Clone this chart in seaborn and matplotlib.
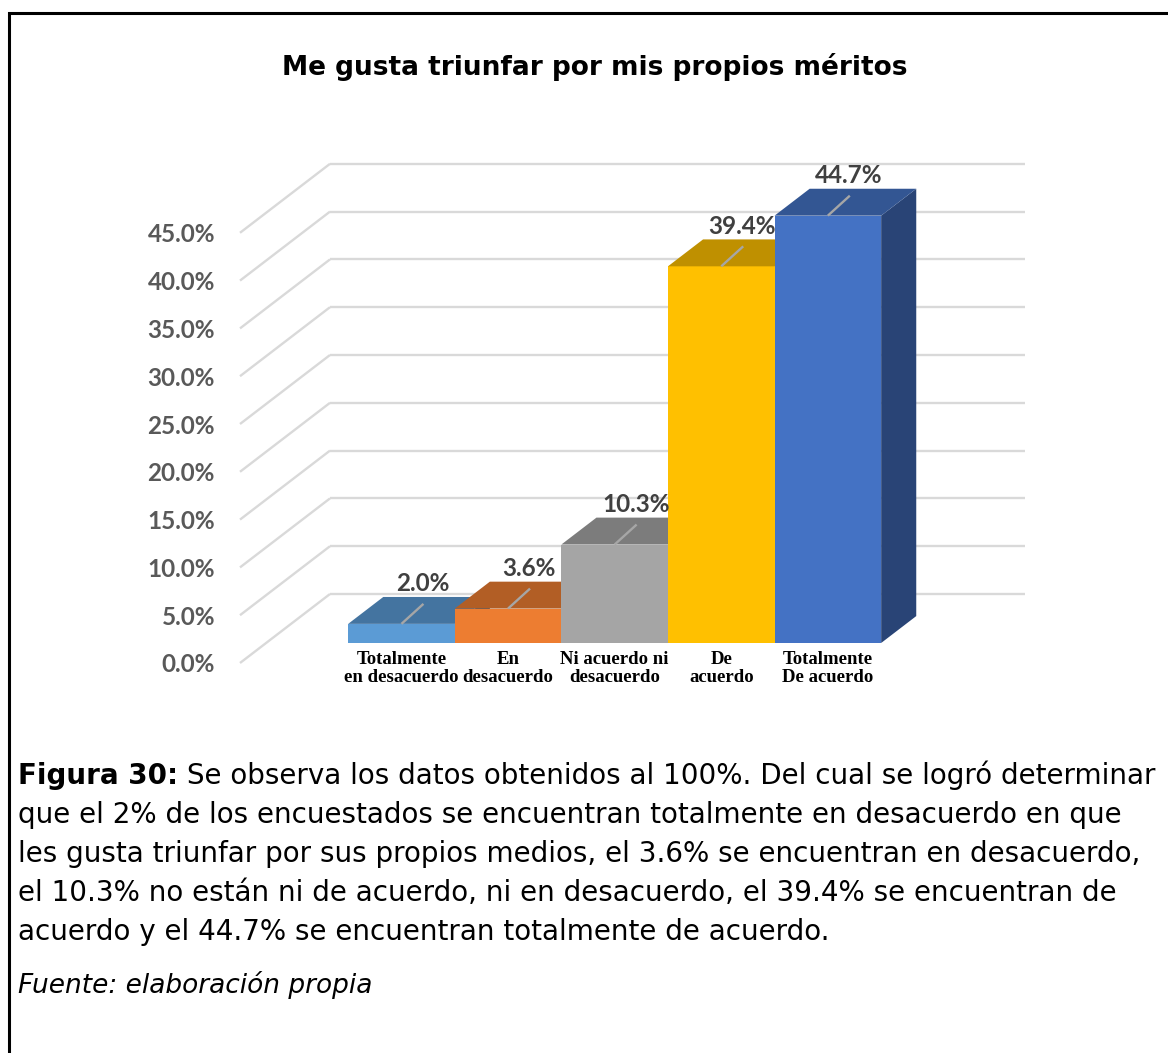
import numpy as np
import pandas as pd
import matplotlib
matplotlib.use("Agg")
import matplotlib.pyplot as plt
import matplotlib.transforms as mtransforms
import matplotlib.colors as mcolors
from matplotlib.patches import Polygon, Rectangle
from matplotlib.ticker import PercentFormatter
import seaborn as sns

# ---------------- data ----------------
categories = ["Totalmente\nen desacuerdo", "En\ndesacuerdo", "Ni acuerdo ni\ndesacuerdo",
              "De\nacuerdo", "Totalmente\nDe acuerdo"]
values = [2.0, 3.6, 10.3, 39.4, 44.7]
bar_colors = ["#5B9BD5", "#ED7D31", "#A5A5A5", "#FFC000", "#4472C4"]
yticks = [0, 5, 10, 15, 20, 25, 30, 35, 40, 45]
title = "Me gusta triunfar por mis propios méritos"
caption_bold = "Figura 30:"
caption_first = " Se observa los datos obtenidos al 100%. Del cual se logró determinar"
caption_rest = [
    "que el 2% de los encuestados se encuentran totalmente en desacuerdo en que",
    "les gusta triunfar por sus propios medios, el 3.6% se encuentran en desacuerdo,",
    "el 10.3% no están ni de acuerdo, ni en desacuerdo, el 39.4% se encuentran de",
    "acuerdo y el 44.7% se encuentran totalmente de acuerdo.",
]
source = "Fuente: elaboración propia"

# ---------------- style ----------------
sns.set_theme(style="white")
plt.rcParams["font.family"] = ["DejaVu Sans"]

W, H = 1168, 1053
fig = plt.figure(figsize=(W / 100, H / 100), dpi=100)
fig.patch.set_facecolor("white")

# front plane of the floor: x 240..935 px, y(0)=663 px, y(45)=232.8 px
ax = fig.add_axes([240 / W, (H - 663) / H, 695 / W, 430.2 / H])
ax.set_facecolor("none")

df = pd.DataFrame({"cat": categories, "val": values})
sns.barplot(data=df, x="cat", y="val", hue="cat", palette=bar_colors,
            width=1.0, saturation=1, legend=False, ax=ax, linewidth=0)

XMIN, XMAX = -1.27, 5.25
ax.set_xlim(XMIN, XMAX)
ax.set_ylim(0, 45)

# oblique depth projection (data units per unit of depth)
DX = 90 / 106.6
DY = 69 / 9.56
D0, D1 = 0.29, 0.68          # depth of bar front and back faces


def off(d):
    return d * DX, d * DY


grid_color = "#D9D9D9"
for t in yticks:
    bx, by = off(1.0)
    ax.plot([XMIN, XMIN + bx], [t, t + by], color=grid_color, lw=1.7,
            clip_on=False, zorder=0, solid_capstyle="butt")
    ax.plot([XMIN + bx, XMAX + bx], [t + by, t + by], color=grid_color, lw=1.7,
            clip_on=False, zorder=0, solid_capstyle="butt")


def shade(c, f):
    r, g, b = mcolors.to_rgb(c)
    return (r * f, g * f, b * f)


fx, fy = off(D0)
bx1, by1 = off(D1)
shift = mtransforms.Affine2D().translate(fx, fy) + ax.transData
patches = list(ax.patches)
for i, p in enumerate(patches):
    x0, w, h = p.get_x(), p.get_width(), p.get_height()
    col = bar_colors[i]
    p.set_transform(shift)
    p.set_clip_on(False)
    p.set_zorder(3 + 3 * i)
    side = Polygon([(x0 + w + fx, fy), (x0 + w + bx1, by1),
                    (x0 + w + bx1, h + by1), (x0 + w + fx, h + fy)],
                   closed=True, facecolor=shade(col, 0.6), edgecolor="none",
                   clip_on=False, zorder=2 + 3 * i)
    top = Polygon([(x0 + fx, h + fy), (x0 + w + fx, h + fy),
                   (x0 + w + bx1, h + by1), (x0 + bx1, h + by1)],
                  closed=True, facecolor=shade(col, 0.75), edgecolor="none",
                  clip_on=False, zorder=4 + 3 * i)
    ax.add_patch(side)
    ax.add_patch(top)

    # leader line + data label
    cx = x0 + w / 2 + fx
    cy = h + fy
    ex, ey = cx + 0.206, cy + 2.09
    ax.plot([cx, ex], [cy, ey], color="#A6A6A6", lw=1.7, clip_on=False,
            zorder=30, solid_capstyle="butt")
    ax.annotate(f"{values[i]:.1f}%", xy=(ex, ey), xytext=(-0.7, 14.5),
                textcoords="offset points", ha="center", va="center",
                fontsize=17.5, fontweight="bold", family=["Lato", "DejaVu Sans"],
                color="#404040", zorder=31, annotation_clip=False)

    # category label
    ax.annotate(categories[i], xy=(cx, fy), xytext=(0, -6.0),
                textcoords="offset points", ha="center", va="top",
                fontsize=13.5, fontweight="bold",
                family=["Liberation Serif", "DejaVu Serif"], color="black",
                linespacing=1.05, annotation_clip=False)

ax.set_xticks([])
ax.set_xlabel("")
ax.set_ylabel("")
ax.set_yticks(yticks)
ax.yaxis.set_major_formatter(PercentFormatter(xmax=100, decimals=1))
ax.tick_params(axis="y", length=0, pad=18, labelsize=17.5, labelcolor="#595959")
for lbl in ax.get_yticklabels():
    lbl.set_fontfamily(["Lato", "DejaVu Sans"])
    lbl.set_fontweight("bold")
for s in ax.spines.values():
    s.set_visible(False)
ax.grid(False)

# title
fig.text(595 / W, 1 - 75 / H, title, ha="center", va="baseline",
         fontsize=19, fontweight="bold", color="black")

# caption text
CAP = 20
left = 18 / W
base = 784
step = 39
tb = fig.text(left, 1 - base / H, caption_bold, ha="left", va="baseline",
              fontsize=CAP, fontweight="bold", color="black")
fig.canvas.draw()
bbox = tb.get_window_extent(renderer=fig.canvas.get_renderer())
fig.text(bbox.x1 / W, 1 - base / H, caption_first, ha="left", va="baseline",
         fontsize=CAP, color="black")
for k, line in enumerate(caption_rest):
    fig.text(left, 1 - (base + step * (k + 1)) / H, line, ha="left",
             va="baseline", fontsize=CAP, color="black")
fig.text(left, 1 - 993 / H, source, ha="left", va="baseline", fontsize=19,
         style="italic", color="black")

# page frame
frame = Rectangle((9 / W, -0.05), 1.2, 1 - 13 / H + 0.05, transform=fig.transFigure,
                  fill=False, edgecolor="black", lw=2.2, clip_on=False)
fig.patches.append(frame)

fig.savefig("out.png", dpi=100, facecolor="white")
